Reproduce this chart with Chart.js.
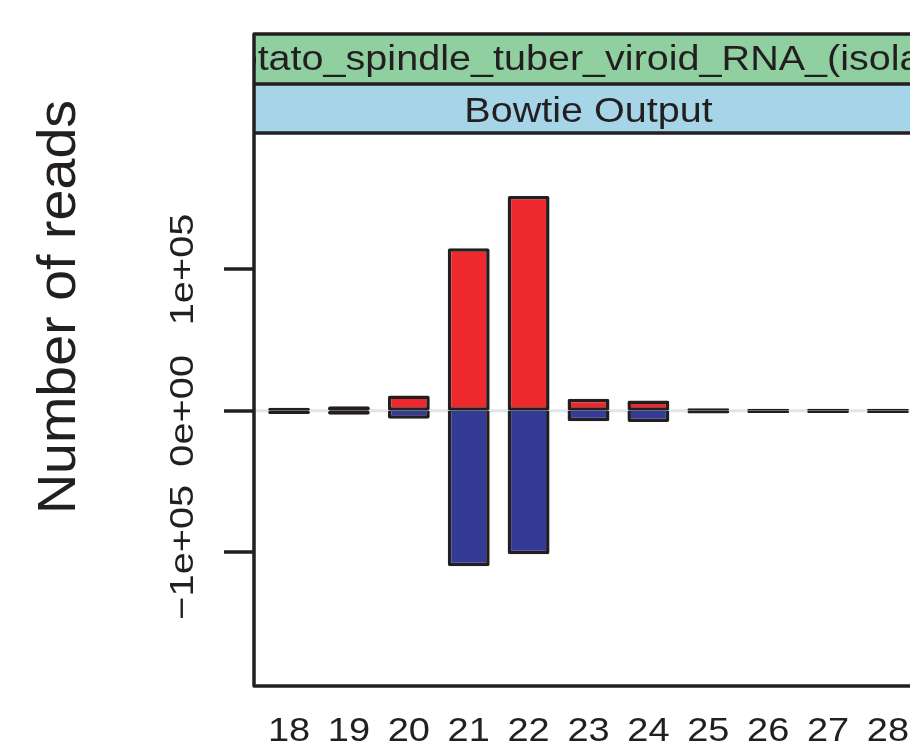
<!DOCTYPE html>
<html>
<head>
<meta charset="utf-8">
<title>Bowtie Output</title>
<script src="https://cdn.jsdelivr.net/npm/chart.js@4"></script>
<style>
  html, body { margin: 0; padding: 0; background: #fff; overflow: hidden; }
  #wrap { width: 910px; height: 746px; overflow: hidden; }
  canvas { display: block; }
</style>
</head>
<body>
<div id="wrap"><canvas id="chart" width="960" height="746"></canvas></div>
<script>
// read lengths (nt) and read counts, sense up / antisense down
const readLengths = [18, 19, 20, 21, 22, 23, 24, 25, 26, 27, 28];
const senseReads = [2200, 3300, 10800, 115000, 152000, 8600, 7400, 1900, 1500, 1400, 1500];
const antisenseReads = [-2300, -2800, -5600, -109900, -101400, -7400, -7900, -1800, -1600, -1500, -1500];

const yTicks = [-100000, 0, 100000];
const yTickLabels = ['\u22121e+05', '0e+00', '1e+05'];

const stripTop = 'Potato_spindle_tuber_viroid_RNA_(isolate)';
const stripBottom = 'Bowtie Output';
const yTitle = 'Number of reads';

const INK = '#231F20';
const FONT = '"Liberation Sans", Arial, Helvetica, sans-serif';

// text drawn a bit wider than Arial, like the R device font
function stretchedText(ctx, text, x, y, size, sx, rot) {
  ctx.save();
  ctx.translate(x, y);
  if (rot) ctx.rotate(rot);
  ctx.scale(sx, 1);
  ctx.font = size + 'px ' + FONT;
  ctx.fillStyle = INK;
  ctx.textAlign = 'center';
  ctx.textBaseline = 'alphabetic';
  ctx.fillText(text, 0, 0);
  ctx.restore();
}

// zero reference line under the bars, strips, frame and labels on top
const latticeFrame = {
  id: 'latticeFrame',
  beforeDatasetsDraw(chart) {
    const { ctx, chartArea: a, scales } = chart;
    const y0 = scales.y.getPixelForValue(0);
    ctx.save();
    ctx.strokeStyle = '#E1E4E9';
    ctx.lineWidth = 3;
    ctx.beginPath();
    ctx.moveTo(a.left, y0);
    ctx.lineTo(a.right, y0);
    ctx.stroke();
    ctx.restore();
  },
  afterDraw(chart) {
    const { ctx, chartArea: a, scales } = chart;
    const s1 = 34, s2 = 84;
    const w = a.right - a.left;
    const mid = (a.left + a.right) / 2;

    ctx.save();
    ctx.fillStyle = '#8FCFA0';
    ctx.fillRect(a.left, s1, w, s2 - s1);
    ctx.fillStyle = '#A6D5E8';
    ctx.fillRect(a.left, s2, w, a.top - s2);

    ctx.save();
    ctx.beginPath();
    ctx.rect(a.left, s1, w, a.top - s1);
    ctx.clip();
    stretchedText(ctx, stripTop, mid, 70, 35, 1.13);
    stretchedText(ctx, stripBottom, mid, 121.5, 35, 1.13);
    ctx.restore();

    ctx.strokeStyle = INK;
    ctx.lineWidth = 3.5;
    ctx.lineJoin = 'round';
    ctx.strokeRect(a.left, s1, w, a.bottom - s1);
    ctx.beginPath();
    ctx.moveTo(a.left, s2); ctx.lineTo(a.right, s2);
    ctx.moveTo(a.left, a.top); ctx.lineTo(a.right, a.top);
    ctx.stroke();

    readLengths.forEach(v => {
      stretchedText(ctx, String(v), scales.x.getPixelForValue(v), 740.5, 33, 1.15);
    });
    yTicks.forEach((v, i) => {
      stretchedText(ctx, yTickLabels[i], 193, scales.y.getPixelForValue(v), 34, 1.17, -Math.PI / 2);
    });
    stretchedText(ctx, yTitle, 75, 307, 54, 1.03, -Math.PI / 2);
    ctx.restore();
  }
};

new Chart(document.getElementById('chart'), {
  type: 'bar',
  data: {
    datasets: [
      {
        label: 'sense',
        data: readLengths.map((x, i) => ({ x: x, y: senseReads[i] })),
        backgroundColor: '#ED292E',
        borderColor: INK,
        borderWidth: 3.5,
        borderSkipped: false,
        borderRadius: 2,
        inflateAmount: 0,
        grouped: false,
        barPercentage: 0.7,
        categoryPercentage: 1
      },
      {
        label: 'antisense',
        data: readLengths.map((x, i) => ({ x: x, y: antisenseReads[i] })),
        backgroundColor: '#333B96',
        borderColor: INK,
        borderWidth: 3.5,
        borderSkipped: c => (c.raw && Math.abs(c.raw.y) > 4000 ? 'start' : false),
        borderRadius: 2,
        inflateAmount: 0,
        grouped: false,
        barPercentage: 0.7,
        categoryPercentage: 1
      }
    ]
  },
  options: {
    responsive: false,
    animation: false,
    devicePixelRatio: 1,
    layout: { padding: { left: 0, top: 133, right: 37, bottom: 0 } },
    plugins: { legend: { display: false }, tooltip: { enabled: false } },
    scales: {
      x: {
        type: 'linear',
        offset: false,
        min: 17.415,
        max: 28.585,
        grid: { display: false },
        border: { display: false },
        ticks: { display: false },
        afterBuildTicks: s => { s.ticks = readLengths.map(v => ({ value: v })); },
        afterFit: s => { s.height = 60; }
      },
      y: {
        min: -194600,
        max: 196500,
        grid: {
          drawOnChartArea: false,
          lineWidth: 0,
          drawTicks: true,
          tickLength: 30,
          tickWidth: 3.5,
          tickColor: INK
        },
        border: { display: false },
        ticks: { display: false },
        afterBuildTicks: s => { s.ticks = yTicks.map(v => ({ value: v })); },
        afterFit: s => { s.width = 254; }
      }
    }
  },
  plugins: [latticeFrame]
});
</script>
</body>
</html>
